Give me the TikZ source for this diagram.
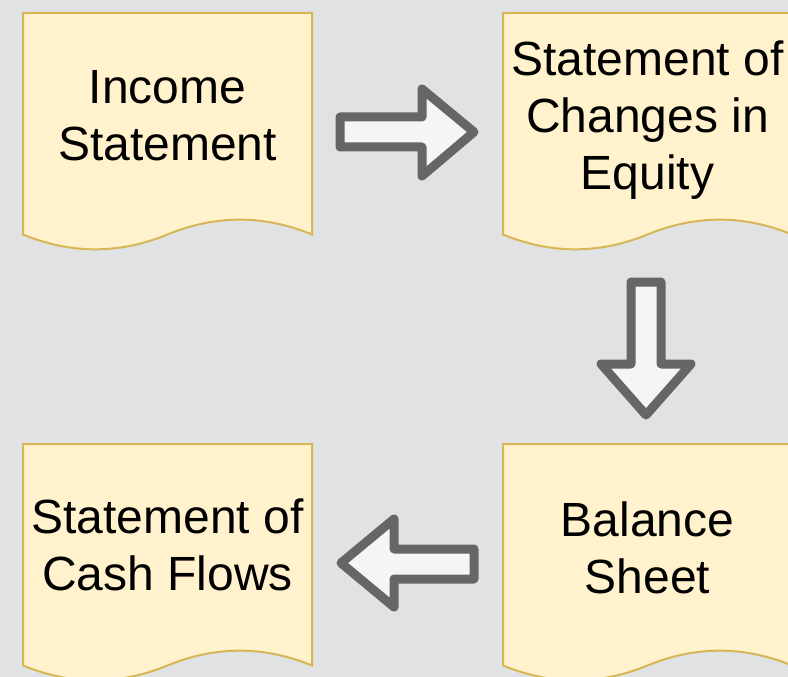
\documentclass[tikz,border=0pt]{standalone}
\usepackage{xcolor}
\usepackage{fontspec}
\setmainfont{Liberation Sans}
\usepackage{tikz}
\usetikzlibrary{positioning}

\definecolor{bgback}{RGB}{225,226,228}
\definecolor{docfill}{HTML}{FFF2CC}
\definecolor{docline}{HTML}{D6B656}
\definecolor{arrfill}{HTML}{F5F5F5}
\definecolor{arrline}{HTML}{666666}

\tikzset{
  docbox/.style={fill=docfill, draw=docline, line width=1.5pt},
  blockarrow/.style={fill=arrfill, draw=arrline, line width=6.75pt, line join=round},
  doctext/.style={inner sep=0pt, align=center, font=\fontsize{36}{43}\selectfont}
}

\begin{document}
\begin{tikzpicture}[x=0.75pt,y=0.75pt,yscale=-1,xscale=1]
        \useasboundingbox (0,0) rectangle (788,677);
        \fill [bgback] (0,0) rectangle (788,677);
        \clip (0,0) rectangle (788,677);
        % documents
        \draw [docbox] (23,13) -- (312,13) -- (312,234.5) .. controls (263.8,214.7) and (215.7,214.7) .. (167.5,234.5) .. controls (119.3,254.3) and (71.2,254.3) .. (23,234.5) -- cycle ;
        \draw [docbox] (503,13) -- (792,13) -- (792,234.5) .. controls (743.8,214.7) and (695.7,214.7) .. (647.5,234.5) .. controls (599.3,254.3) and (551.2,254.3) .. (503,234.5) -- cycle ;
        \draw [docbox] (503,444) -- (792,444) -- (792,665.5) .. controls (743.8,645.7) and (695.7,645.7) .. (647.5,665.5) .. controls (599.3,685.3) and (551.2,685.3) .. (503,665.5) -- cycle ;
        \draw [docbox] (23,444) -- (312,444) -- (312,665.5) .. controls (263.8,645.7) and (215.7,645.7) .. (167.5,665.5) .. controls (119.3,685.3) and (71.2,685.3) .. (23,665.5) -- cycle ;
        % block arrows
        \draw [blockarrow] (340,117) -- (422,117) -- (422,89) -- (474,132) -- (422,176) -- (422,147) -- (340,147) -- cycle ;
        \draw [blockarrow] (631,282) -- (661,282) -- (661,364) -- (691,364) -- (646,415) -- (601,364) -- (631,364) -- cycle ;
        \draw [blockarrow] (474,549) -- (394,549) -- (394,519) -- (341,563) -- (394,607) -- (394,579) -- (474,579) -- cycle ;
        % labels
        \node [doctext] (inc) at (167.5,115.7) {Income\\Statement};
        \node [doctext] (soce) at (647.5,120) {Statement of\\Changes in\\Equity};
        \node [doctext] (bal) at (647.5,547.8) {Balance\\Sheet};
        \node [doctext] (scf) at (167.5,545.1) {Statement of\\Cash Flows};
    \end{tikzpicture}
\end{document}
